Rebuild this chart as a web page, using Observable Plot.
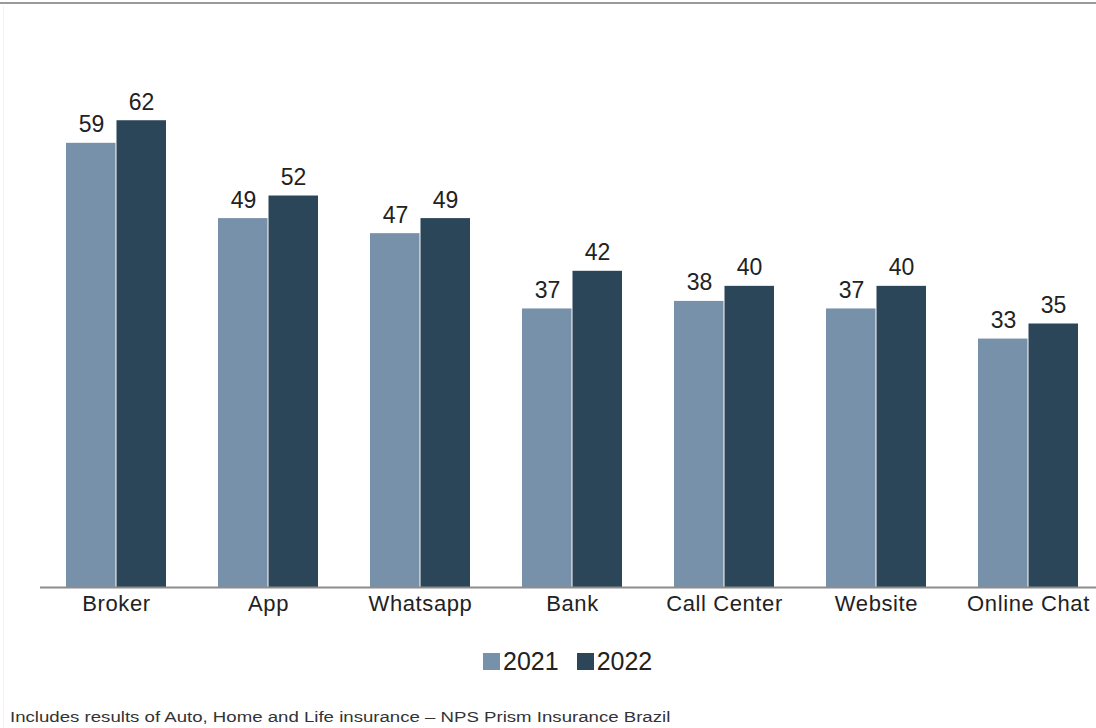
<!DOCTYPE html>
<html>
<head>
<meta charset="utf-8">
<script src="https://cdn.jsdelivr.net/npm/d3@7"></script>
<script src="https://cdn.jsdelivr.net/npm/@observablehq/plot@0.6"></script>
<style>
  html, body { margin: 0; padding: 0; overflow: hidden; background: #fff; }
  #wrap { position: relative; width: 1096px; height: 728px; overflow: hidden; font-family: "Liberation Sans", Arial, sans-serif; }
  #topline { position: absolute; left: 0; top: 2px; width: 1096px; height: 2px; background: #9a9a9a; }
  #leftline { position: absolute; left: 3px; top: 6px; width: 1px; height: 722px; background: #f2f2f2; }
  #chart { position: absolute; left: 0; top: 0; width: 1104px; }
  #chart svg { max-width: none !important; }
  #legend { position: absolute; left: 483px; top: 647px; display: flex; align-items: center; font-size: 25px; color: #222; }
  #legend .sw { display: inline-block; width: 17px; height: 17px; margin-right: 3px; }
  #legend .item { display: flex; align-items: center; margin-right: 18px; }
  #caption { position: absolute; left: 10px; top: 709px; font-size: 14px; color: #333; white-space: nowrap; transform: scaleX(1.33); transform-origin: 0 0; }
</style>
</head>
<body>
<div id="wrap">
  <div id="topline"></div>
  <div id="leftline"></div>
  <div id="chart"></div>
  <div id="legend"></div>
  <div id="caption">Includes results of Auto, Home and Life insurance – NPS Prism Insurance Brazil</div>
</div>
<script>
const categories = ["Broker", "App", "Whatsapp", "Bank", "Call Center", "Website", "Online Chat"];
const years = ["2021", "2022"];
const values2021 = [59, 49, 47, 37, 38, 37, 33];
const values2022 = [62, 52, 49, 42, 40, 40, 35];
const colors = {"2021": "#7891ab", "2022": "#2b4559"};

const data2021 = categories.map((c, i) => ({category: c, year: "2021", value: values2021[i]}));
const data2022 = categories.map((c, i) => ({category: c, year: "2022", value: values2022[i]}));

const textStyle = {fontSize: 23, fill: "#222", lineAnchor: "bottom", dy: -11, fontFamily: "Liberation Sans, Arial, sans-serif"};

const chart = Plot.plot({
  width: 1104,
  height: 640,
  marginLeft: 40,
  marginRight: 0,
  marginTop: 60,
  marginBottom: 53,
  style: {fontFamily: "Liberation Sans, Arial, sans-serif", background: "transparent", maxWidth: "none"},
  x: {domain: categories, paddingInner: 0.342, paddingOuter: 0.171, label: null},
  y: {domain: [0, 70], axis: null},
  marks: [
    Plot.barY(data2021, {x: "category", y: "value", fill: colors["2021"], insetRight: 50.5}),
    Plot.barY(data2022, {x: "category", y: "value", fill: colors["2022"], insetLeft: 50.5}),
    Plot.text(data2021, {x: "category", y: "value", text: d => String(d.value), dx: -25, ...textStyle}),
    Plot.text(data2022, {x: "category", y: "value", text: d => String(d.value), dx: 25, ...textStyle}),
    Plot.ruleY([0], {stroke: "#8c8c8c", strokeWidth: 2}),
    Plot.axisX({tickSize: 0, tickPadding: 8, fontSize: 22, fill: "#222", label: null})
  ]
});
chart.style.maxWidth = "none";
chart.querySelectorAll("[aria-label='x-axis tick label'] text").forEach(t => t.setAttribute("letter-spacing", "0.6"));
document.getElementById("chart").appendChild(chart);

const legend = document.getElementById("legend");
years.forEach(y => {
  const item = document.createElement("div");
  item.className = "item";
  const sw = document.createElement("span");
  sw.className = "sw";
  sw.style.background = colors[y];
  const lab = document.createElement("span");
  lab.textContent = y;
  item.appendChild(sw);
  item.appendChild(lab);
  legend.appendChild(item);
});
</script>
</body>
</html>
